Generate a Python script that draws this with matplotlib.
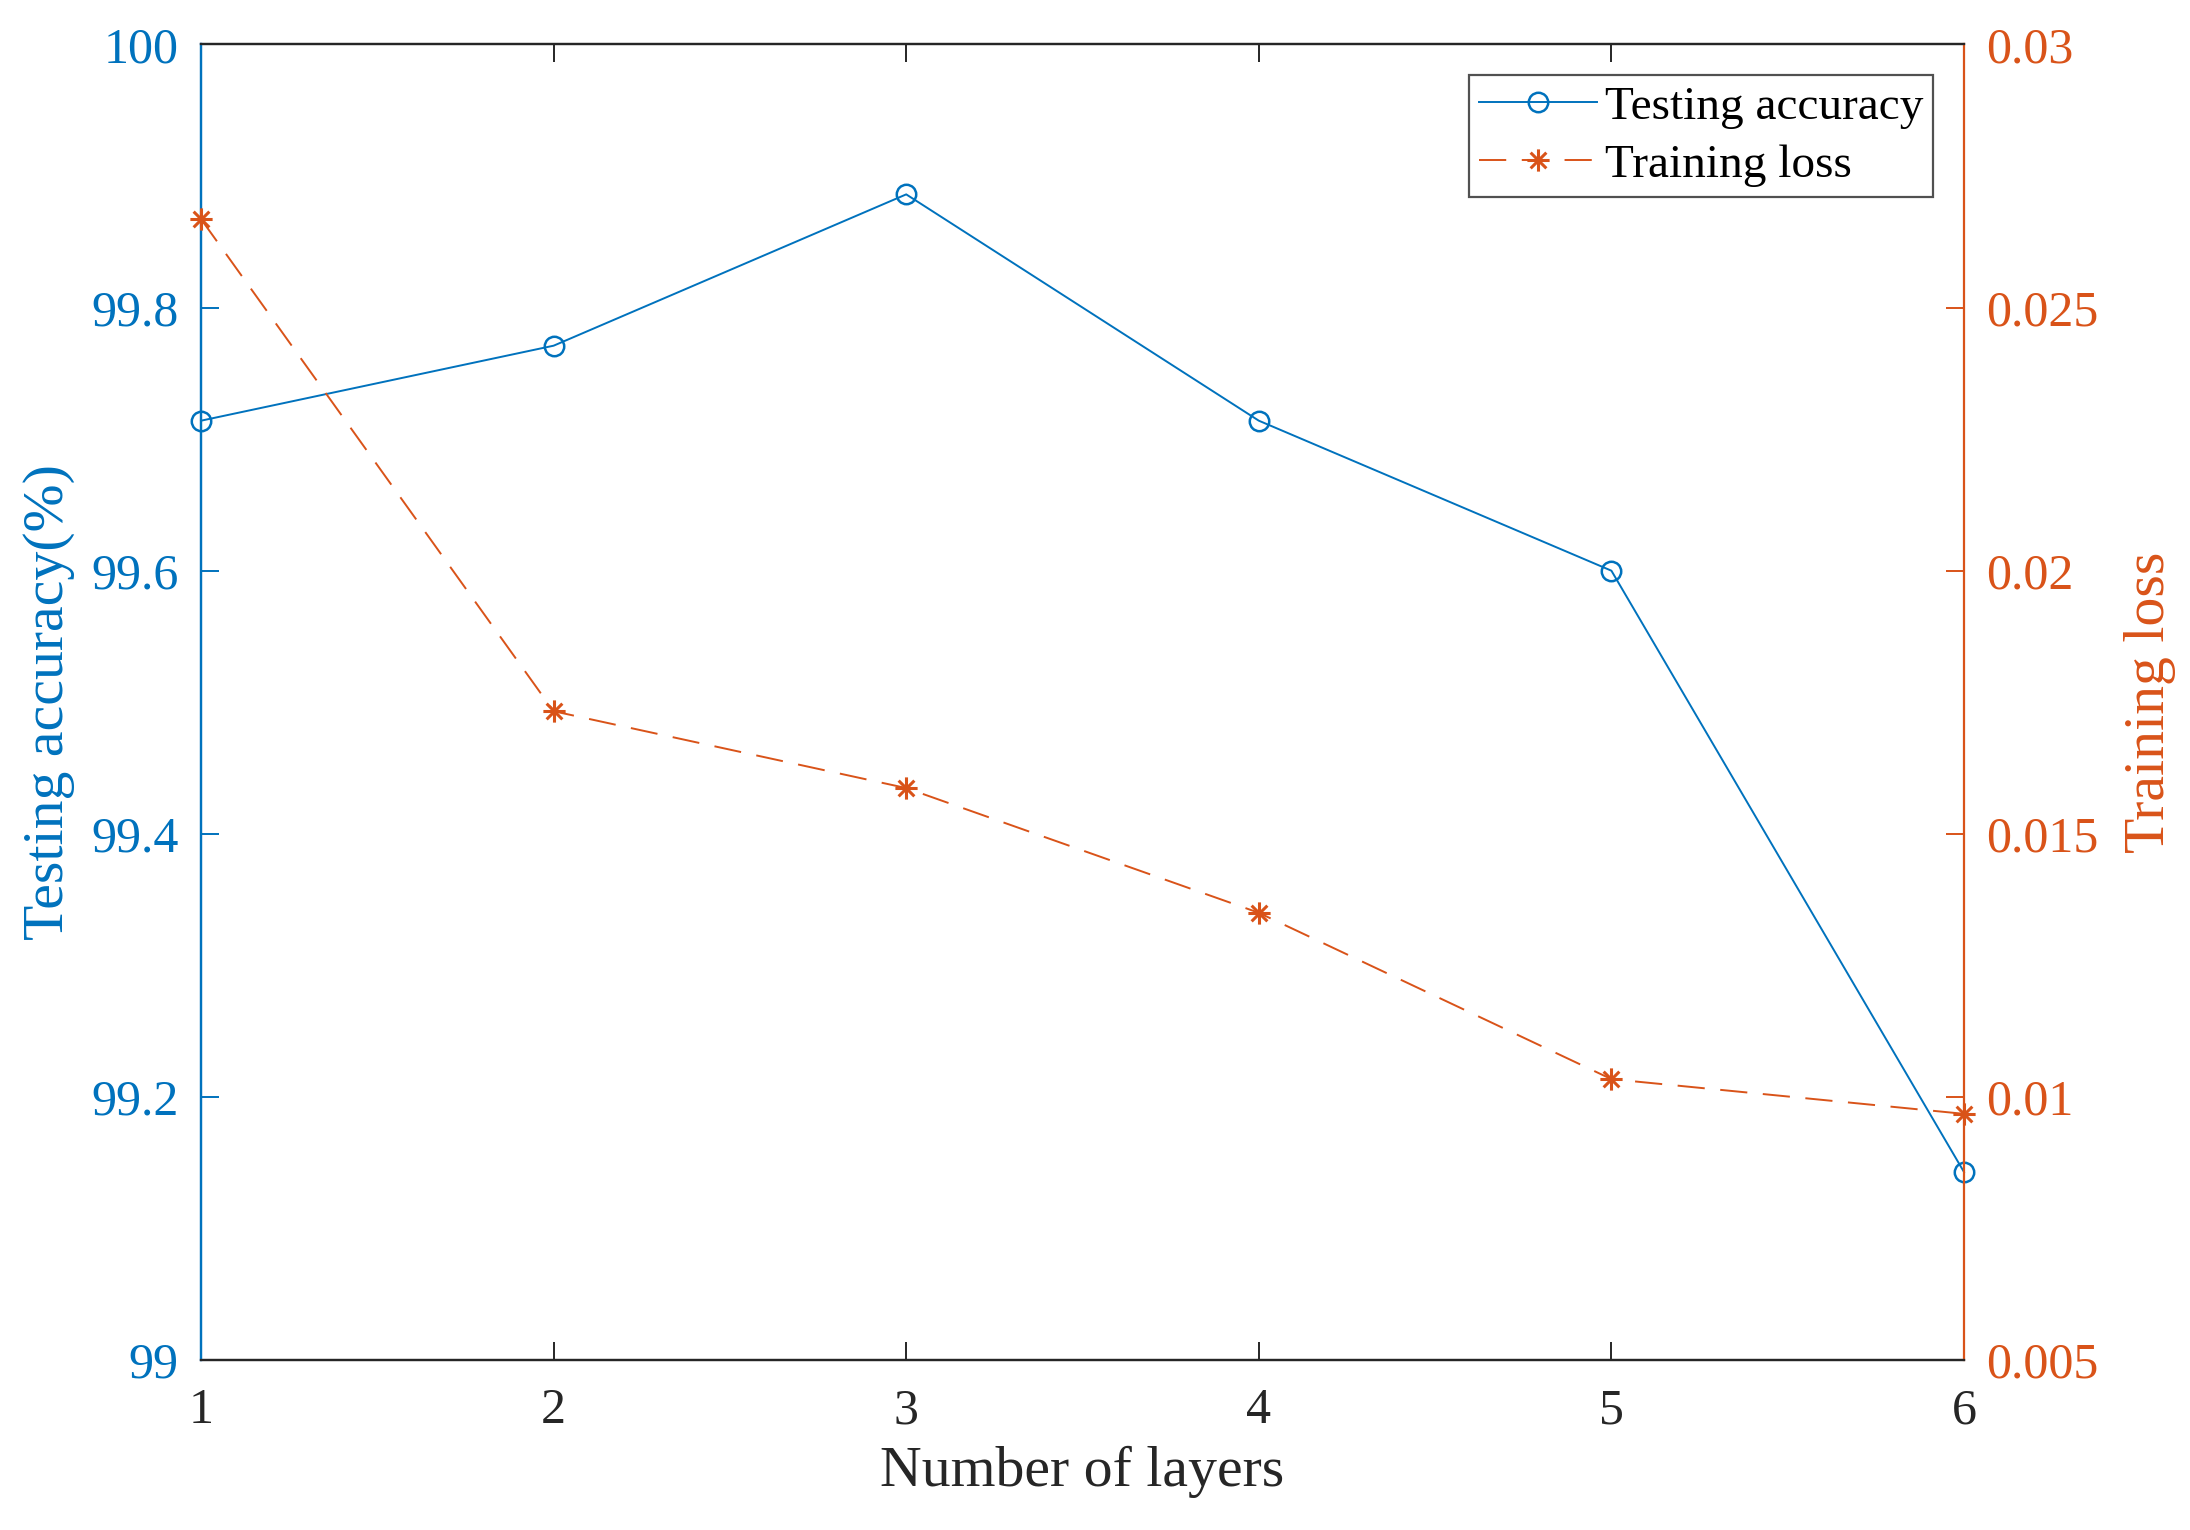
import numpy as np
import matplotlib
matplotlib.use('Agg')
import matplotlib.pyplot as plt
from matplotlib.path import Path

# data
layers = [1, 2, 3, 4, 5, 6]
test_acc = [99.714, 99.771, 99.886, 99.714, 99.600, 99.143]
train_loss = [0.02668, 0.01733, 0.01587, 0.0135, 0.01034, 0.00968]

blue = '#0072BD'
orange = '#D95319'

plt.rcParams['font.family'] = ['Liberation Serif', 'DejaVu Serif']

# MATLAB style asterisk (plus + cross)
d = 0.7071
star = Path([(-1, 0), (1, 0), (0, -1), (0, 1), (-d, -d), (d, d), (-d, d), (d, -d)],
            [Path.MOVETO, Path.LINETO] * 4)

fig = plt.figure(figsize=(10.95, 7.65), dpi=200)
ax = fig.add_axes([0.0918, 0.111, 0.805, 0.860])
ax2 = ax.twinx()

l1, = ax.plot(layers, test_acc, color=blue, lw=0.7, marker='o', ms=7,
              mfc='none', mec=blue, mew=0.9, label='Testing accuracy', clip_on=False, zorder=3)
l2, = ax2.plot(layers, train_loss, color=orange, lw=0.7, ls=(0, (14, 8)), marker=star, ms=8,
               mec=orange, mew=1.1, label='Training loss', clip_on=False, zorder=3)

ax.set_xlim(1, 6)
ax.set_ylim(99, 100)
ax.set_yticks([99, 99.2, 99.4, 99.6, 99.8, 100])
ax.set_yticklabels(['99', '99.2', '99.4', '99.6', '99.8', '100'])
ax2.set_ylim(0.005, 0.03)
ax2.set_yticks([0.005, 0.01, 0.015, 0.02, 0.025, 0.03])
ax2.set_yticklabels(['0.005', '0.01', '0.015', '0.02', '0.025', '0.03'])

ax.tick_params(axis='x', direction='in', top=True, bottom=True, length=6.5, width=0.7,
               color='#262626', labelcolor='#262626', labelsize=18, pad=10)
ax.tick_params(axis='y', direction='in', left=True, right=False, length=6.5, width=0.7,
               color=blue, labelcolor=blue, labelsize=18, pad=8)
ax2.tick_params(axis='y', direction='in', right=True, left=False, length=6.5, width=0.7,
                color=orange, labelcolor=orange, labelsize=18, pad=8)
ax2.tick_params(axis='x', top=False, bottom=False)

for a in (ax, ax2):
    for s in a.spines.values():
        s.set_linewidth(0.8)
        s.set_color('#262626')
ax2.spines['left'].set_color(blue)
ax2.spines['right'].set_color(orange)
ax.spines['left'].set_color(blue)
ax.spines['right'].set_visible(False)

ax.set_xlabel('Number of layers', fontsize=20.8, color='#262626', labelpad=4)
ax.set_ylabel('Testing accuracy(%)', fontsize=20.8, color=blue, labelpad=6)
ax2.set_ylabel('Training loss', fontsize=20.8, color=orange, labelpad=9)

leg = ax2.legend(handles=[l1, l2], loc='upper right', bbox_to_anchor=(0.9826, 0.9766),
                 fontsize=17, frameon=True, fancybox=False, borderpad=0.22,
                 handlelength=2.5, handletextpad=0.15, labelspacing=0.32, borderaxespad=0)
leg.get_frame().set_edgecolor('#262626')
leg.get_frame().set_linewidth(0.8)

fig.savefig('out.png', dpi=200, facecolor='white')
